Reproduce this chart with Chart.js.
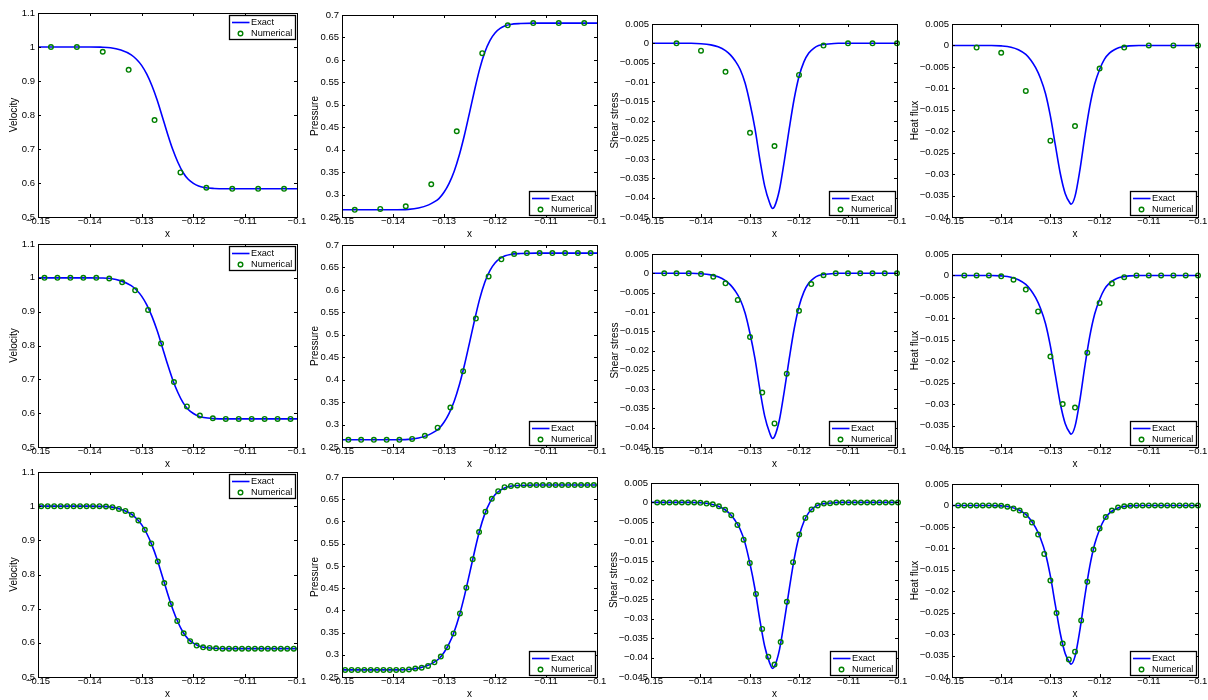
<!DOCTYPE html>
<html><head><meta charset="utf-8">
<script src="https://cdn.jsdelivr.net/npm/chart.js@4.4.0/dist/chart.umd.min.js"></script>
<style>
html,body{margin:0;padding:0;background:#fff;overflow:hidden;width:1208px;height:700px;position:relative;}
canvas{position:absolute;}
</style></head><body>
<script>
// ---------- tick labels ----------
const xTicks = [-0.15, -0.14, -0.13, -0.12, -0.11, -0.10];
const velTicks = [0.5, 0.6, 0.7, 0.8, 0.9, 1.0, 1.1];
const presTicks = [0.25, 0.3, 0.35, 0.4, 0.45, 0.5, 0.55, 0.6, 0.65, 0.7];
const shearTicks = [-0.045, -0.04, -0.035, -0.03, -0.025, -0.02, -0.015, -0.01, -0.005, 0, 0.005];
const heatTicks = [-0.04, -0.035, -0.03, -0.025, -0.02, -0.015, -0.01, -0.005, 0, 0.005];

// ---------- exact solution ----------
const velExactX = [-0.15,-0.145,-0.14,-0.138,-0.136,-0.134,-0.132,-0.131,-0.13,-0.129,-0.128,-0.127,-0.126,-0.125,-0.124,-0.123,-0.122,-0.121,-0.12,-0.119,-0.118,-0.116,-0.114,-0.11,-0.1];
const velExact = [1.0,1.0,1.0,0.9995,0.998,0.991,0.977,0.964,0.946,0.920,0.886,0.844,0.795,0.745,0.699,0.661,0.631,0.611,0.599,0.591,0.587,0.584,0.583,0.583,0.583];

const presExactX = [-0.15,-0.14,-0.137,-0.135,-0.133,-0.132,-0.131,-0.13,-0.129,-0.128,-0.127,-0.126,-0.125,-0.124,-0.123,-0.122,-0.121,-0.12,-0.119,-0.118,-0.117,-0.115,-0.112,-0.1];
const presExact = [0.266,0.266,0.267,0.270,0.277,0.283,0.291,0.305,0.325,0.352,0.388,0.432,0.482,0.533,0.580,0.617,0.643,0.660,0.670,0.676,0.679,0.681,0.682,0.682];

const shearExactX = [-0.15,-0.142,-0.14,-0.138,-0.1365,-0.135,-0.134,-0.133,-0.132,-0.131,-0.13,-0.129,-0.128,-0.127,-0.126,-0.1254,-0.125,-0.124,-0.123,-0.122,-0.121,-0.12,-0.119,-0.118,-0.117,-0.116,-0.114,-0.112,-0.1];
const shearExact = [0,0,-0.0001,-0.0004,-0.0009,-0.0019,-0.0030,-0.0046,-0.0068,-0.0103,-0.0156,-0.0220,-0.0300,-0.0370,-0.0413,-0.0428,-0.0423,-0.0380,-0.0305,-0.0222,-0.0145,-0.0086,-0.0048,-0.0025,-0.0013,-0.0006,-0.0002,0,0];

const heatExactX = [-0.15,-0.142,-0.14,-0.138,-0.1365,-0.135,-0.134,-0.133,-0.132,-0.131,-0.13,-0.129,-0.128,-0.127,-0.126,-0.1258,-0.125,-0.124,-0.123,-0.122,-0.121,-0.12,-0.119,-0.118,-0.117,-0.116,-0.114,-0.112,-0.1];
const heatExact = [0,0,-0.0001,-0.0004,-0.0010,-0.0021,-0.0034,-0.0052,-0.0077,-0.0112,-0.0165,-0.0232,-0.0298,-0.0345,-0.0368,-0.0370,-0.0352,-0.0290,-0.0212,-0.0142,-0.0090,-0.0056,-0.0032,-0.0018,-0.0010,-0.0005,-0.0001,0,0];

// ---------- numerical grids ----------
const xc10 = [-0.1475,-0.1425,-0.1375,-0.1325,-0.1275,-0.1225,-0.1175,-0.1125,-0.1075,-0.1025];
const xc20 = [-0.14875,-0.14625,-0.14375,-0.14125,-0.13875,-0.13625,-0.13375,-0.13125,-0.12875,-0.12625,-0.12375,-0.12125,-0.11875,-0.11625,-0.11375,-0.11125,-0.10875,-0.10625,-0.10375,-0.10125];
const xc40 = [-0.149375,-0.148125,-0.146875,-0.145625,-0.144375,-0.143125,-0.141875,-0.140625,-0.139375,-0.138125,-0.136875,-0.135625,-0.134375,-0.133125,-0.131875,-0.130625,-0.129375,-0.128125,-0.126875,-0.125625,-0.124375,-0.123125,-0.121875,-0.120625,-0.119375,-0.118125,-0.116875,-0.115625,-0.114375,-0.113125,-0.111875,-0.110625,-0.109375,-0.108125,-0.106875,-0.105625,-0.104375,-0.103125,-0.101875,-0.100625];
const xn10 = [-0.145,-0.14,-0.135,-0.13,-0.125,-0.12,-0.115,-0.11,-0.105,-0.1];
const xn20 = [-0.1475,-0.145,-0.1425,-0.14,-0.1375,-0.135,-0.1325,-0.13,-0.1275,-0.125,-0.1225,-0.12,-0.1175,-0.115,-0.1125,-0.11,-0.1075,-0.105,-0.1025,-0.1];
const xn40 = [-0.14875,-0.1475,-0.14625,-0.145,-0.14375,-0.1425,-0.14125,-0.14,-0.13875,-0.1375,-0.13625,-0.135,-0.13375,-0.1325,-0.13125,-0.13,-0.12875,-0.1275,-0.12625,-0.125,-0.12375,-0.1225,-0.12125,-0.12,-0.11875,-0.1175,-0.11625,-0.115,-0.11375,-0.1125,-0.11125,-0.11,-0.10875,-0.1075,-0.10625,-0.105,-0.10375,-0.1025,-0.10125,-0.1];

// ---------- numerical values ----------
const vel1 = [1.0,1.0,0.986,0.933,0.785,0.631,0.586,0.583,0.583,0.583];
const vel2 = [1.0,1.0,1.0,1.0,1.0,0.998,0.987,0.963,0.905,0.806,0.692,0.620,0.593,0.585,0.583,0.583,0.583,0.583,0.583,0.583];
const vel3 = [1,1,1,1,1,1,1,1,1,1,0.999,0.997,0.992,0.986,0.975,0.958,0.931,0.891,0.838,0.775,0.714,0.664,0.628,0.605,0.592,0.587,0.585,0.584,0.583,0.583,0.583,0.583,0.583,0.583,0.583,0.583,0.583,0.583,0.583,0.583];

const pres1 = [0.266,0.268,0.274,0.323,0.441,0.615,0.677,0.682,0.682,0.682];
const pres2 = [0.266,0.266,0.266,0.266,0.266,0.268,0.275,0.293,0.338,0.419,0.536,0.630,0.668,0.680,0.682,0.682,0.682,0.682,0.682,0.682];
const pres3 = [0.266,0.266,0.266,0.266,0.266,0.266,0.266,0.266,0.266,0.266,0.267,0.269,0.271,0.275,0.283,0.296,0.317,0.348,0.393,0.451,0.515,0.576,0.622,0.651,0.668,0.677,0.680,0.681,0.682,0.682,0.682,0.682,0.682,0.682,0.682,0.682,0.682,0.682,0.682,0.682];

const shear1 = [0,-0.0019,-0.0074,-0.0232,-0.0266,-0.0082,-0.0006,0,0,0];
const shear2 = [0,0,0,-0.0002,-0.0009,-0.0026,-0.0069,-0.0165,-0.0309,-0.0389,-0.0260,-0.0097,-0.0028,-0.0005,0,0,0,0,0,0];
const shear3 = [0,0,0,0,0,0,0,-0.0001,-0.0003,-0.0005,-0.0010,-0.0019,-0.0033,-0.0058,-0.0096,-0.0156,-0.0236,-0.0326,-0.0398,-0.0418,-0.0360,-0.0256,-0.0154,-0.0083,-0.0040,-0.0018,-0.0008,-0.0003,-0.0002,0,0,0,0,0,0,0,0,0,0,0];

const heat1 = [-0.0005,-0.0017,-0.0106,-0.0222,-0.0188,-0.0054,-0.0005,0,0,0];
const heat2 = [0,0,0,-0.0002,-0.0010,-0.0033,-0.0084,-0.0189,-0.0300,-0.0308,-0.0180,-0.0064,-0.0019,-0.0004,0,0,0,0,0,0];
const heat3 = [0,0,0,0,0,0,0,-0.0001,-0.0003,-0.0007,-0.0012,-0.0022,-0.0040,-0.0068,-0.0113,-0.0175,-0.0251,-0.0322,-0.0359,-0.0341,-0.0268,-0.0178,-0.0103,-0.0054,-0.0027,-0.0012,-0.0005,-0.0002,-0.0001,0,0,0,0,0,0,0,0,0,0,0];

// ---------- layout ----------
const FAM = '"Liberation Sans", Arial, Helvetica, sans-serif';
const YW = 50, PT = 10, PR = 14, XH = 26;

function fmt(v){ return String(Number(v.toFixed(4))).replace('-', '\u2212'); }

const col = {
  vel:  {ticks: velTicks,  title: 'Velocity',     exX: velExactX,   exY: velExact,   legend: 'tr', off: 23.5},
  pres: {ticks: presTicks, title: 'Pressure',     exX: presExactX,  exY: presExact,  legend: 'br', off: 27},
  shear:{ticks: shearTicks,title: 'Shear stress', exX: shearExactX, exY: shearExact, legend: 'br', off: 36.5},
  heat: {ticks: heatTicks, title: 'Heat flux',    exX: heatExactX,  exY: heatExact,  legend: 'br', off: 36.5}
};

const panels = [
  {c: col.vel,   rect: [38, 13, 297, 217],   nx: xc10, ny: vel1},
  {c: col.pres,  rect: [342, 15, 597, 217],  nx: xc10, ny: pres1},
  {c: col.shear, rect: [652, 24, 897, 217],  nx: xn10, ny: shear1},
  {c: col.heat,  rect: [952, 24, 1198, 217], nx: xn10, ny: heat1},
  {c: col.vel,   rect: [38, 244, 297, 447],  nx: xc20, ny: vel2},
  {c: col.pres,  rect: [342, 245, 597, 447], nx: xc20, ny: pres2},
  {c: col.shear, rect: [652, 254, 897, 447], nx: xn20, ny: shear2},
  {c: col.heat,  rect: [952, 254, 1198, 447],nx: xn20, ny: heat2},
  {c: col.vel,   rect: [38, 472, 297, 677],  nx: xc40, ny: vel3},
  {c: col.pres,  rect: [342, 477, 597, 677], nx: xc40, ny: pres3},
  {c: col.shear, rect: [651, 483, 898, 677], nx: xn40, ny: shear3},
  {c: col.heat,  rect: [952, 484, 1198, 677],nx: xn40, ny: heat3}
];

const boxPlugin = {
  id: 'matlabBox',
  afterDraw(chart, args, opts) {
    const {ctx, chartArea: a, scales: {x, y}} = chart;
    ctx.save();
    ctx.strokeStyle = '#000';
    ctx.lineWidth = 1;
    ctx.beginPath();
    x.ticks.forEach(t => {
      const px = Math.round(x.getPixelForValue(t.value)) + 0.5;
      ctx.moveTo(px, a.bottom); ctx.lineTo(px, a.bottom - 3);
      ctx.moveTo(px, a.top); ctx.lineTo(px, a.top + 3);
    });
    y.ticks.forEach(t => {
      const py = Math.round(y.getPixelForValue(t.value)) + 0.5;
      ctx.moveTo(a.left, py); ctx.lineTo(a.left + 3, py);
      ctx.moveTo(a.right, py); ctx.lineTo(a.right - 3, py);
    });
    ctx.stroke();
    ctx.strokeRect(a.left + 0.5, a.top + 0.5, a.right - a.left, a.bottom - a.top);

    // legend
    const w = 66, h = 24, m = 2.5;
    const bx = Math.round(a.right - m - w);
    const by = Math.round(opts.pos === 'tr' ? a.top + 1.5 : a.bottom - m - h);
    ctx.fillStyle = '#fff';
    ctx.fillRect(bx, by, w, h);
    ctx.lineWidth = 1.3;
    ctx.strokeStyle = '#000';
    ctx.strokeRect(bx + 0.5, by + 0.5, w, h);
    const ds = chart.data.datasets;
    ctx.strokeStyle = ds[0].borderColor;
    ctx.lineWidth = ds[0].borderWidth;
    ctx.beginPath(); ctx.moveTo(bx + 3, by + 7.5); ctx.lineTo(bx + 20.5, by + 7.5); ctx.stroke();
    ctx.strokeStyle = ds[1].borderColor;
    ctx.lineWidth = ds[1].pointBorderWidth;
    ctx.beginPath(); ctx.arc(bx + 11.5, by + 18.5, ds[1].pointRadius, 0, Math.PI * 2); ctx.stroke();
    ctx.fillStyle = '#000';
    ctx.font = '9.2px ' + FAM;
    ctx.textAlign = 'left'; ctx.textBaseline = 'middle';
    ctx.fillText(ds[0].label, bx + 22, by + 7.5);
    ctx.fillText(ds[1].label, bx + 22, by + 18.5);
    ctx.restore();
  }
};

panels.forEach(p => {
  const [l, t, r, b] = p.rect;
  const W = (r - l) + YW + PR, H = (b - t) + PT + XH;
  const cv = document.createElement('canvas');
  cv.width = W; cv.height = H;
  cv.style.width = W + 'px'; cv.style.height = H + 'px';
  cv.style.left = (l - YW) + 'px'; cv.style.top = (t - PT) + 'px';
  document.body.appendChild(cv);
  const c = p.c;
  const chart = new Chart(cv, {
    type: 'scatter',
    data: {datasets: [
      {label: 'Exact', data: c.exX.map((x, i) => ({x, y: c.exY[i]})), showLine: true,
       borderColor: '#0000ff', borderWidth: 1.6, pointRadius: 0, pointHoverRadius: 0,
       cubicInterpolationMode: 'monotone', clip: false, order: 1},
      {label: 'Numerical', data: p.nx.map((x, i) => ({x, y: p.ny[i]})), showLine: false,
       pointStyle: 'circle', pointRadius: 2.3, pointBorderWidth: 1.4, borderColor: '#008000',
       backgroundColor: 'rgba(0,0,0,0)', pointBackgroundColor: 'rgba(0,0,0,0)', pointBorderColor: '#008000',
       clip: false, order: 0}
    ]},
    options: {
      responsive: false, animation: false, devicePixelRatio: 1,
      events: [],
      layout: {padding: {left: 0, top: PT, right: PR, bottom: 0}},
      plugins: {legend: {display: false}, tooltip: {enabled: false}, matlabBox: {pos: c.legend}},
      scales: {
        x: {
          type: 'linear', position: 'bottom', min: -0.15, max: -0.1,
          afterBuildTicks: s => { s.ticks = xTicks.map(v => ({value: v})); },
          afterFit: s => { s.height = XH; },
          grid: {display: false, drawTicks: false}, border: {display: false},
          ticks: {padding: 0, autoSkip: false, maxRotation: 0, minRotation: 0, color: '#000',
                  font: {family: FAM, size: 9.5, lineHeight: 1}, callback: v => fmt(v)},
          title: {display: true, text: 'x', color: '#000', font: {family: FAM, size: 10, lineHeight: 1},
                  padding: {top: 0, bottom: 3.5}}
        },
        y: {
          type: 'linear', position: 'left', min: c.ticks[0], max: c.ticks[c.ticks.length - 1],
          afterBuildTicks: s => { s.ticks = c.ticks.map(v => ({value: v})); },
          afterFit: s => { s.width = YW; },
          grid: {display: false, drawTicks: false}, border: {display: false},
          ticks: {padding: 3, autoSkip: false, color: '#000',
                  font: {family: FAM, size: 9.5, lineHeight: 1}, callback: v => fmt(v)},
          title: {display: true, text: c.title, color: '#000', font: {family: FAM, size: 10, lineHeight: 1},
                  padding: {top: YW - c.off - 5, bottom: 0}}
        }
      }
    },
    plugins: [boxPlugin]
  });
  // make sure the plot area lands exactly where intended
  const a = chart.chartArea;
  const dx = YW - a.left, dy = PT - a.top;
  if (dx || dy) {
    cv.style.left = (l - YW + dx) + 'px';
    cv.style.top = (t - PT + dy) + 'px';
  }
});
</script>
</body></html>
